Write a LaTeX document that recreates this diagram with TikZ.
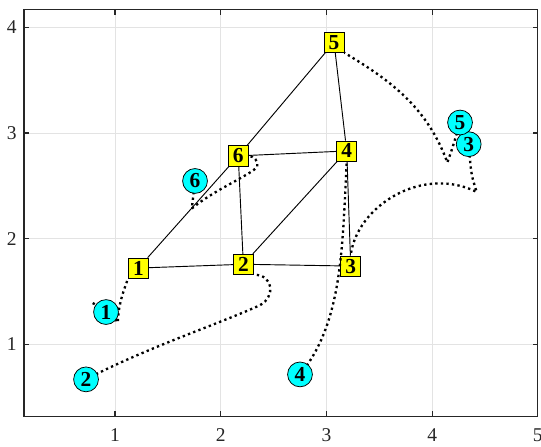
\documentclass[tikz,border=0pt]{standalone}
\usepackage{fontspec}
\setmainfont{Liberation Serif}
\usepackage{tikz}
\usetikzlibrary{positioning}
\usepackage{xcolor}
\definecolor{hubc}{HTML}{FFFF00}
\definecolor{agentc}{HTML}{00FFFF}
\definecolor{gridc}{HTML}{E3E3E3}
\definecolor{axisc}{HTML}{262626}
\pgfdeclarelayer{front}
\pgfsetlayers{main,front}

\begin{document}
\begin{tikzpicture}[
  x=2cm, y=2cm,
  hub/.style={draw, fill=hubc, minimum size=0.38cm, inner sep=0pt,
    font=\fontsize{11.5}{11.5}\selectfont\bfseries},
  agent/.style={draw, circle, fill=agentc, minimum size=0.47cm, inner sep=0pt,
    font=\fontsize{11.5}{11.5}\selectfont\bfseries},
  link/.style={line width=0.5pt},
  track/.style={line width=1.25pt, dash pattern=on 1.25pt off 1.75pt},
  gridln/.style={draw=gridc, line width=0.5pt},
  axln/.style={draw=axisc, line width=0.6pt},
  tck/.style={font=\fontsize{10.5}{10.5}\selectfont, text=axisc, inner sep=0pt}
]
  \useasboundingbox (-0.088,0.034) rectangle (5.030,4.258);

  % grid and box
  \foreach \i in {1,...,4} {
    \draw[gridln] (\i,0.318) -- (\i,4.17);
    \draw[gridln] (0.139,\i) -- (5,\i);
  }
  \draw[axln] (0.139,0.318) rectangle (5,4.17);
  \foreach \i in {1,...,5} {
    \draw[axln] (\i,0.318) -- ++(0,0.05);
    \draw[axln] (\i,4.17) -- ++(0,-0.05);
    \node[tck] (xt\i) at (\i,0.138) {\i};
  }
  \foreach \i in {1,...,4} {
    \draw[axln] (0.139,\i) -- ++(0.05,0);
    \draw[axln] (5,\i) -- ++(-0.05,0);
    \node[tck, anchor=east] (yt\i) at (0.073,\i) {\i};
  }

  % squares
  \node[hub] (s1) at (1.221,1.722) {1};
  \node[hub] (s2) at (2.214,1.758) {2};
  \node[hub] (s3) at (3.230,1.741) {3};
  \node[hub] (s4) at (3.192,2.830) {4};
  \node[hub] (s5) at (3.072,3.857) {5};
  \node[hub] (s6) at (2.166,2.783) {6};

  % circles
  \begin{pgfonlayer}{front}
    \node[agent] (c1) at (0.915,1.306) {1};
    \node[agent] (c2) at (0.726,0.669) {2};
    \node[agent] (c3) at (4.346,2.894) {3};
    \node[agent] (c4) at (2.750,0.716) {4};
    \node[agent] (c5) at (4.264,3.099) {5};
    \node[agent] (c6) at (1.757,2.546) {6};
  \end{pgfonlayer}

  \foreach \a/\b in {1/6,1/2,6/5,5/4,6/4,6/2,2/4,2/3,4/3}
    \draw[link] (s\a) -- (s\b);

  % paths
  \coordinate (t1) at (0.789,1.391);
  \coordinate (k1) at (1.028,1.208);
  \coordinate (b2) at (2.37,1.37);
  \coordinate (k3) at (4.422,2.442);
  \coordinate (k5) at (4.144,2.721);
  \coordinate (k6) at (1.726,2.285);
  \coordinate (b6) at (2.345,2.68);

  \draw[track] (t1) .. controls (0.95,1.30) .. (k1)
    .. controls (1.03,1.40) and (1.10,1.55) .. (s1.south west);
  \draw[track] (c2.center) .. controls (1.3,0.97) and (2.0,1.2) .. (b2)
    .. controls (2.52,1.45) and (2.50,1.66) .. (s2.south east);
  \draw[track] (c3.center) .. controls (4.37,2.6) .. (k3)
    .. controls (3.9,2.7) and (3.28,2.3) .. (s3.north);
  \draw[track] (c4.center) .. controls (3.15,1.2) and (3.15,1.9) .. (s4.south);
  \draw[track] (c5.center) .. controls (4.19,2.85) .. (k5)
    .. controls (3.95,3.25) and (3.6,3.5) .. (s5.south east);
  \draw[track] (c6.center) .. controls (1.74,2.4) .. (k6)
    .. controls (1.95,2.47) and (2.28,2.6) .. (b6)
    .. controls (2.36,2.74) and (2.31,2.78) .. (s6.east);
\end{tikzpicture}
\end{document}
